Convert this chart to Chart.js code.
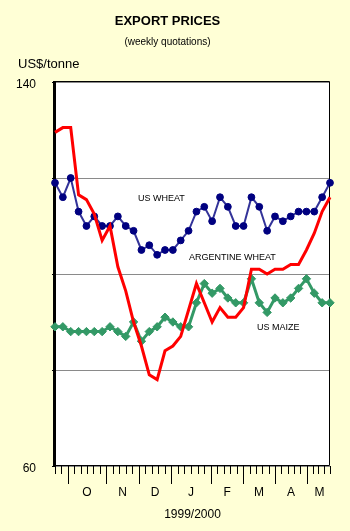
<!DOCTYPE html>
<html>
<head>
<meta charset="utf-8">
<title>Export prices</title>
<script src="https://cdn.jsdelivr.net/npm/chart.js@4.4.0/dist/chart.umd.min.js"></script>
<style>
  html, body { margin: 0; padding: 0; background: #ffffd6; }
  canvas { display: block; }
</style>
</head>
<body>
<canvas id="chartPrecios" width="350" height="531"></canvas>
<script>
// weekly export quotations, US$/tonne (week 0 = first quote of the season)
const usWheat = [119,116,120,113,110,112,110,110,112,110,109,105,106,104,105,105,107,109,
                 113,114,111,116,114,110,110,116,114,109,112,111,112,113,113,113,116,119];
const argentineWheat = [129.5,130.5,130.5,116.5,115.5,112.5,107,110,101.5,96.5,90,85,79,78,84,85,87,92.5,
                        98,94,90,93,91,91,93,101,101,100,101,101,102,102,105,108.5,113,116];
const usMaize = [89,89,88,88,88,88,88,89,88,87,90,86,88,89,91,90,89,89,
                 94,98,96,97,95,94,94,99,94,92,95,94,95,97,99,96,94,94];

// month boundaries on the week axis, and their initials
const monthLetters = ['O','N','D','J','F','M','A','M'];
const monthStarts = [1.65, 6.5, 10.7, 14.75, 19.85, 23.95, 28.0, 32.05];
const lastWeek = 35;

const yTicks = [60, 80, 100, 120, 140];
const yLabelled = [60, 140];

const weeks = usWheat.map((_, i) => i);
const toPoints = arr => arr.map((v, i) => ({x: weeks[i], y: v}));

Chart.defaults.font.family = 'Arial, "Liberation Sans", sans-serif';
Chart.defaults.color = '#000';

// name of each series written next to its line
const notas = [
  {text: 'US WHEAT', x: 10.56, y: 115.8},
  {text: 'ARGENTINE WHEAT', x: 17.05, y: 103.5},
  {text: 'US MAIZE', x: 25.7, y: 88.75}
];

const marco = {
  id: 'marco',
  beforeDraw(chart) {
    const {ctx, chartArea: a} = chart;
    ctx.save();
    ctx.fillStyle = '#fff';
    ctx.fillRect(a.left, a.top, a.right - a.left, a.bottom - a.top);
    ctx.restore();
  },
  beforeDatasetsDraw(chart) {
    const {ctx, chartArea: a} = chart;
    const xs = chart.scales.x;
    ctx.save();
    ctx.strokeStyle = '#000';
    ctx.lineWidth = 1;
    ctx.beginPath();
    ctx.moveTo(a.left, a.top - 0.5);
    ctx.lineTo(a.right - 0.5, a.top - 0.5);
    ctx.lineTo(a.right - 0.5, a.bottom - 0.5);
    ctx.lineTo(a.left, a.bottom - 0.5);
    ctx.stroke();
    ctx.fillStyle = '#000';
    ctx.fillRect(a.left - 2, a.top - 1, 3, a.bottom - a.top + 1);

    // week tick marks, longer ones at the start of each month
    const bounds = [0, ...monthStarts, lastWeek];
    const marks = [];
    for (let i = 0; i < bounds.length - 1; i++) {
      const from = bounds[i], to = bounds[i + 1];
      const n = Math.max(1, Math.round((to - from) / 0.8));
      for (let k = 0; k < n; k++) {
        marks.push({v: from + k * (to - from) / n, major: k === 0 && i > 0});
      }
    }
    marks.push({v: lastWeek, major: false});
    ctx.beginPath();
    marks.forEach(m => {
      const px = Math.round(xs.getPixelForValue(m.v)) + 0.5;
      ctx.moveTo(px, a.bottom);
      ctx.lineTo(px, a.bottom + (m.major ? 18 : 8));
    });
    ctx.stroke();
    ctx.restore();
  },
  afterDatasetsDraw(chart) {
    const {ctx, scales: {x, y}} = chart;
    ctx.save();
    ctx.font = '9px Arial, "Liberation Sans", sans-serif';
    ctx.fillStyle = '#000';
    ctx.textAlign = 'left';
    ctx.textBaseline = 'middle';
    notas.forEach(n => ctx.fillText(n.text, x.getPixelForValue(n.x), y.getPixelForValue(n.y)));
    ctx.font = '13px Arial, "Liberation Sans", sans-serif';
    ctx.fillText('US$/tonne', 18, 64);
    ctx.restore();
  }
};

const chartPrecios = new Chart(document.getElementById('chartPrecios'), {
  type: 'line',
  data: {
    datasets: [
      {
        label: 'ARGENTINE WHEAT',
        data: toPoints(argentineWheat),
        borderColor: '#ff0000',
        borderWidth: 3,
        pointRadius: 0,
        tension: 0,
        clip: false
      },
      {
        label: 'US WHEAT',
        data: toPoints(usWheat),
        borderColor: '#333399',
        borderWidth: 2,
        pointRadius: 3.4,
        pointBackgroundColor: '#000080',
        pointBorderColor: '#000080',
        pointBorderWidth: 1,
        tension: 0,
        clip: false
      },
      {
        label: 'US MAIZE',
        data: toPoints(usMaize),
        borderColor: '#339966',
        borderWidth: 3,
        pointStyle: 'rectRot',
        pointRadius: 4.2,
        pointBackgroundColor: '#339966',
        pointBorderColor: '#339966',
        pointBorderWidth: 1,
        tension: 0,
        clip: false
      }
    ]
  },
  options: {
    responsive: false,
    animation: false,
    devicePixelRatio: 1,
    layout: { padding: { left: 5, right: 20, top: 0, bottom: 0 } },
    scales: {
      x: {
        type: 'linear',
        min: 0,
        max: lastWeek,
        afterBuildTicks: s => {
          s.ticks = monthStarts.map((m, i) => ({value: (m + (monthStarts[i + 1] ?? lastWeek + 0.3)) / 2}));
        },
        ticks: {
          autoSkip: false,
          maxRotation: 0,
          padding: 19,
          font: { size: 12 },
          callback: (v, i) => monthLetters[i]
        },
        grid: { display: false, drawTicks: false },
        border: { display: false },
        title: {
          display: true,
          text: '1999/2000',
          font: { size: 12 },
          padding: { top: 8, bottom: 9 }
        },
        afterFit: s => { s.height = 65; }
      },
      y: {
        min: 60,
        max: 140,
        afterBuildTicks: s => { s.ticks = yTicks.map(v => ({value: v})); },
        ticks: {
          padding: 16,
          labelOffset: 3,
          font: { size: 12 },
          callback: v => yLabelled.includes(v) ? v : ''
        },
        grid: { color: '#8a8a8a', lineWidth: 1, drawTicks: true, tickLength: 3, tickColor: '#000' },
        border: { display: false },
        afterFit: s => { s.width = 50; }
      }
    },
    plugins: {
      legend: { display: false },
      tooltip: { enabled: false },
      title: {
        display: true,
        text: 'EXPORT PRICES',
        font: { size: 13, weight: 'bold' },
        padding: { top: 14, bottom: 0 }
      },
      subtitle: {
        display: true,
        text: '(weekly quotations)',
        font: { size: 10 },
        padding: { top: 6.4, bottom: 34 }
      }
    }
  },
  plugins: [marco]
});
</script>
</body>
</html>
